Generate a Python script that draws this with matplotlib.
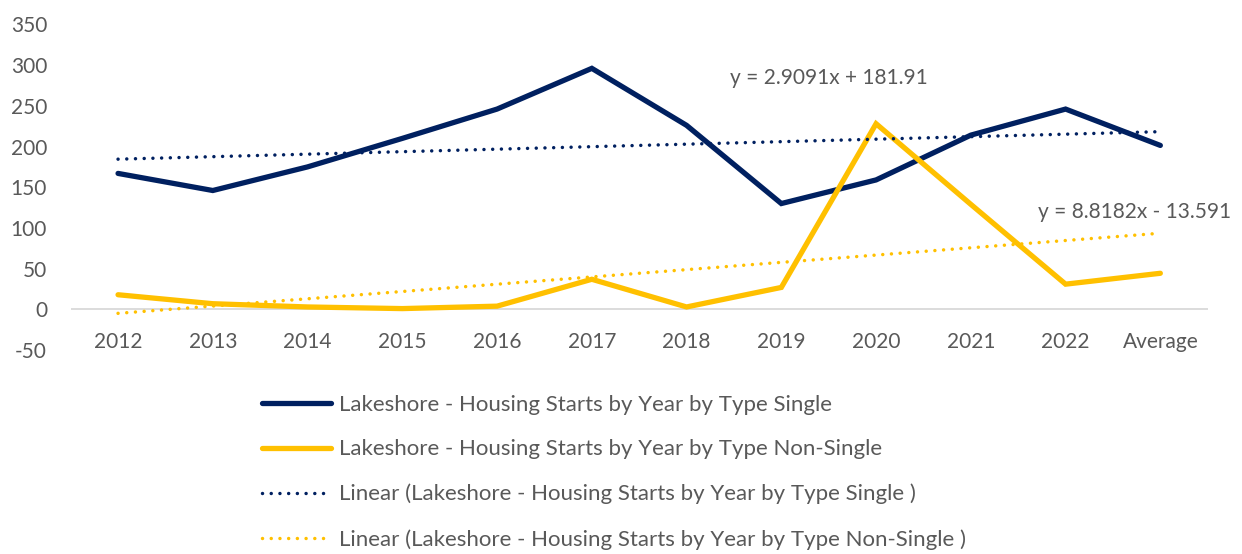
import numpy as np
import matplotlib
matplotlib.use("Agg")
import matplotlib.pyplot as plt

plt.rcParams['font.family'] = ['Lato', 'DejaVu Sans']
plt.rcParams['axes.unicode_minus'] = False

# data
categories = ["2012", "2013", "2014", "2015", "2016", "2017", "2018",
              "2019", "2020", "2021", "2022", "Average"]
single_years = [167, 146, 175, 210, 246, 296, 226, 130, 159, 214, 246]
non_single_years = [18, 7, 3, 1, 4, 37, 3, 27, 228, 129, 31]

single = single_years + [np.mean(single_years)]
non_single = non_single_years + [np.mean(non_single_years)]

eq_single = "y = 2.9091x + 181.91"
eq_non_single = "y = 8.8182x - 13.591"

navy = "#002060"
gold = "#FFC000"
grey = "#595959"

W, H = 1242, 554
fig = plt.figure(figsize=(W / 100, H / 100), dpi=100)
ax = fig.add_axes([0.0569, 0.368, 0.9155, 0.588])

x = np.arange(len(categories))
xn = x + 1  # excel trendline uses 1..n

l1, = ax.plot(x, single, color=navy, lw=3.8, solid_capstyle='round', solid_joinstyle='miter',
              label="Lakeshore - Housing Starts by Year by Type Single")
l2, = ax.plot(x, non_single, color=gold, lw=3.8, solid_capstyle='round', solid_joinstyle='miter',
              label="Lakeshore - Housing Starts by Year by Type Non-Single")

# linear trendlines
p1 = np.polyfit(xn, single, 1)
p2 = np.polyfit(xn, non_single, 1)
dot = (0, (0.01, 2.5))
l3, = ax.plot(x, np.polyval(p1, xn), color=navy, lw=2.5, linestyle=dot, dash_capstyle='round',
              label="Linear (Lakeshore - Housing Starts by Year by Type Single )")
l4, = ax.plot(x, np.polyval(p2, xn), color=gold, lw=2.5, linestyle=dot, dash_capstyle='round',
              label="Linear (Lakeshore - Housing Starts by Year by Type Non-Single )")

ax.axhline(0, color="#d9d9d9", lw=1.3, zorder=0)

# trendline equations (pixel positions from top-left)
fig.text(730 / W, 1 - 78 / H, eq_single, fontsize=15, color=grey, va='center')
fig.text(1038 / W, 1 - 212 / H, eq_non_single, fontsize=15, color=grey, va='center')

ax.set_xlim(-0.5, len(categories) - 0.5)
ax.set_ylim(-50, 350)
ax.set_yticks(np.arange(-50, 351, 50))
ax.set_xticks(x)
ax.set_xticklabels(categories)
ax.tick_params(axis='both', length=0, labelsize=15, colors=grey)
ax.tick_params(axis='y', pad=17)
ax.tick_params(axis='x', pad=-13)
for s in ax.spines.values():
    s.set_visible(False)

# legend below the chart
fig.legend(handles=[l1, l2, l3, l4], loc='upper left', bbox_to_anchor=(262 / W, 1 - 395 / H),
           frameon=False, fontsize=16, labelcolor=grey, handlelength=3.1, handletextpad=0.35,
           labelspacing=1.1, borderpad=0, borderaxespad=0)

fig.savefig("out.png", dpi=100)
